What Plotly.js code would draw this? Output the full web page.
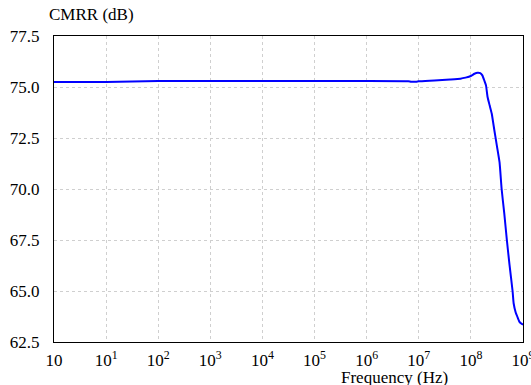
<!DOCTYPE html>
<html>
<head>
<meta charset="utf-8">
<script src="https://cdn.plot.ly/plotly-3.0.1.min.js"></script>
<style>html,body{margin:0;padding:0;background:#fff;}#chart{width:531px;height:385px;}</style>
</head>
<body>
<div id="chart"></div>
<script>
// Frequency (Hz) and CMRR (dB)
const frequencyHz = [1, 10, 31.6, 100, 1e3, 1e4, 1e5, 1e6, 6.3e6, 7.1e6, 8.9e6, 1e7, 2e7, 4e7, 6.3e7, 7.9e7,
  1e8, 1.17e8, 1.35e8, 1.51e8, 1.66e8, 1.82e8, 1.95e8, 2.09e8, 2.29e8, 2.51e8, 2.82e8, 3.16e8, 3.55e8,
  3.89e8, 4.37e8, 4.9e8, 5.5e8, 6.31e8, 6.61e8, 7.24e8, 7.76e8, 8.51e8, 9.12e8, 1e9];
const cmrrDb = [75.24, 75.25, 75.27, 75.29, 75.29, 75.29, 75.29, 75.29, 75.28, 75.26, 75.26, 75.28, 75.32, 75.37, 75.41, 75.46,
  75.54, 75.65, 75.70, 75.68, 75.57, 75.30, 75.08, 74.51, 74.10, 73.70, 72.88, 72.10, 71.30,
  70.00, 68.80, 67.50, 66.30, 65.00, 64.40, 63.95, 63.75, 63.50, 63.42, 63.35];

const xTickVals = [1, 10, 100, 1e3, 1e4, 1e5, 1e6, 1e7, 1e8, 1e9];
const xTickText = ['10', '10<sup>1</sup>', '10<sup>2</sup>', '10<sup>3</sup>', '10<sup>4</sup>',
  '10<sup>5</sup>', '10<sup>6</sup>', '10<sup>7</sup>', '10<sup>8</sup>', '10<sup>9</sup>'];
const yTickVals = [62.5, 65.0, 67.5, 70.0, 72.5, 75.0, 77.5];
const yTitle = 'CMRR (dB)';
const xTitle = 'Frequency (Hz)';

const font = {family: 'Liberation Serif, Times New Roman, DejaVu Serif, serif', size: 17, color: '#000'};

Plotly.newPlot('chart', [{
  x: frequencyHz, y: cmrrDb, type: 'scatter', mode: 'lines',
  line: {color: '#0000ff', width: 2, shape: 'spline', smoothing: 0.4}, hoverinfo: 'skip'
}], {
  width: 531, height: 385,
  margin: {l: 54, r: 8, t: 36, b: 43},
  paper_bgcolor: '#fff', plot_bgcolor: '#fff',
  font: font,
  showlegend: false,
  xaxis: {
    type: 'log', range: [0, 9], tickvals: xTickVals, ticktext: xTickText,
    showline: true, mirror: true, linecolor: '#000', linewidth: 1,
    showgrid: true, gridcolor: '#cfcfcf', griddash: 'dot', gridwidth: 1,
    ticks: '', ticklabelstandoff: 3, zeroline: false, tickfont: font,
    ticklabeloverflow: 'allow'
  },
  yaxis: {
    range: [62.5, 77.5], tickvals: yTickVals, tickformat: '.1f',
    showline: true, mirror: true, linecolor: '#000', linewidth: 1,
    showgrid: true, gridcolor: '#cfcfcf', griddash: 'dot', gridwidth: 1,
    ticks: '', ticklabelstandoff: 10, zeroline: false, tickfont: font,
    ticklabeloverflow: 'allow'
  },
  annotations: [
    {text: yTitle, xref: 'paper', yref: 'paper', x: -0.015, y: 1.0, xanchor: 'left', yanchor: 'bottom',
     yshift: 10, showarrow: false, font: font},
    {text: xTitle, xref: 'paper', yref: 'paper', x: 0.725, y: 0, xanchor: 'center', yanchor: 'top',
     yshift: -24, showarrow: false, font: font}
  ]
}, {displayModeBar: false, staticPlot: true});
</script>
</body>
</html>
